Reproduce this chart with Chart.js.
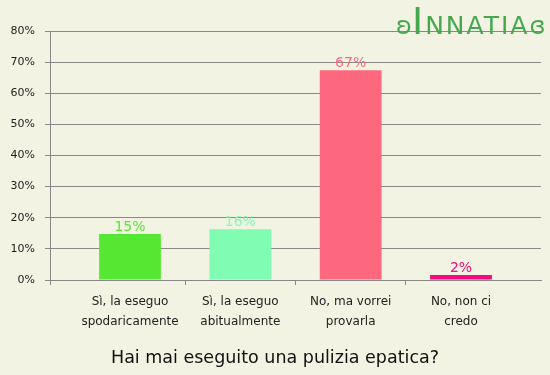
<!DOCTYPE html>
<html>
<head>
<meta charset="utf-8">
<script src="https://cdn.jsdelivr.net/npm/chart.js@4/dist/chart.umd.min.js"></script>
<style>
  html, body { margin: 0; padding: 0; background: #f3f3e3; }
  #wrap { position: relative; width: 550px; height: 375px; }
  #logo {
    position: absolute; left: 396px; top: 4px; color: #45a84f;
    font-family: "DejaVu Sans", sans-serif; font-size: 25px; letter-spacing: 2px;
    white-space: nowrap; line-height: 34px;
  }
  #logo .big { font-size: 38px; }
  #logo .orn { font-size: 24px; letter-spacing: 0; }
</style>
</head>
<body>
<div id="wrap">
  <canvas id="myChart" width="550" height="375"></canvas>
  <div id="logo"><span class="orn">ʚ</span><span class="big">I</span>NNATIA<span class="orn">ɞ</span></div>
</div>
<script>
const categories = [
  ["Sì, la eseguo", "spodaricamente"],
  ["Sì, la eseguo", "abitualmente"],
  ["No, ma vorrei", "provarla"],
  ["No, non ci", "credo"]
];
const values = [14.8, 16.3, 67.4, 1.6];
const valueLabels = ["15%", "16%", "67%", "2%"];
const barColors = ["#55e833", "#80fcb3", "#fd687e", "#f8097e"];
const yTicks = [0, 10, 20, 30, 40, 50, 60, 70, 80];
const title = "Hai mai eseguito una pulizia epatica?";

const gridColor = "#888888";
const textColor = "#222222";
const xMin = -0.725;
const xMax = 3.725;

// labels above bars, in bar colour
const valueLabelPlugin = {
  id: "valueLabels",
  afterDatasetsDraw(chart) {
    const ctx = chart.ctx;
    const meta = chart.getDatasetMeta(0);
    ctx.save();
    ctx.font = "14px 'DejaVu Sans'";
    ctx.textAlign = "center";
    ctx.textBaseline = "alphabetic";
    meta.data.forEach((bar, i) => {
      ctx.fillStyle = barColors[i];
      ctx.fillText(valueLabels[i], bar.x, bar.y - 3);
    });
    ctx.restore();
  }
};

const ctx = document.getElementById("myChart");
new Chart(ctx, {
  type: "bar",
  data: {
    datasets: [{
      data: values.map((v, i) => ({ x: i, y: v })),
      backgroundColor: barColors,
      borderWidth: 0,
      // ticks every half step, so bar width is measured against half a category
      barPercentage: 1.12,
      categoryPercentage: 1
    }]
  },
  options: {
    responsive: false,
    animation: false,
    layout: { padding: { top: 31, right: 0, left: 0, bottom: 0 } },
    plugins: {
      legend: { display: false },
      tooltip: { enabled: false },
      title: {
        display: true,
        text: title,
        position: "bottom",
        color: "#111111",
        font: { family: "DejaVu Sans", size: 17.5, weight: "normal", lineHeight: 1.2 },
        padding: { top: 7, bottom: 6 }
      }
    },
    scales: {
      x: {
        type: "linear",
        offset: false,
        min: xMin,
        max: xMax,
        afterBuildTicks: (axis) => {
          axis.ticks = [xMin, 0, 0.5, 1, 1.5, 2, 2.5, 3].map(v => ({ value: v }));
        },
        afterFit: (axis) => { axis.height = 61; },
        ticks: {
          autoSkip: false,
          maxRotation: 0,
          padding: 7,
          color: textColor,
          font: { family: "DejaVu Sans", size: 12, lineHeight: 1.65 },
          callback: (v) => Number.isInteger(v) ? categories[v] : ""
        },
        grid: {
          offset: false,
          drawOnChartArea: false,
          tickLength: 5,
          tickColor: (c) => (c.tick && Number.isInteger(c.tick.value)) ? "rgba(0,0,0,0)" : gridColor
        },
        border: { color: gridColor }
      },
      y: {
        min: 0,
        max: 80,
        afterBuildTicks: (axis) => {
          axis.ticks = yTicks.map(v => ({ value: v }));
        },
        afterFit: (axis) => { axis.width = 50; },
        ticks: {
          padding: 10,
          color: textColor,
          font: { family: "DejaVu Sans", size: 11 },
          callback: (v) => v + "%"
        },
        grid: { color: gridColor, tickLength: 5, tickColor: gridColor },
        border: { color: gridColor }
      },
      // empty right margin so the bottom title centres on the full width
      yRight: {
        position: "right",
        min: 0,
        max: 80,
        afterFit: (axis) => { axis.width = 9; },
        ticks: { display: false },
        grid: { display: false },
        border: { display: false }
      }
    }
  },
  plugins: [valueLabelPlugin]
});
</script>
</body>
</html>
